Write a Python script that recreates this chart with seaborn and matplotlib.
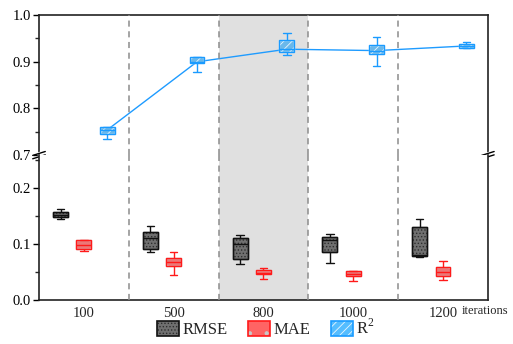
import numpy as np
import pandas as pd
import matplotlib
matplotlib.use("Agg")
import matplotlib.pyplot as plt
import seaborn as sns
from matplotlib.patches import Patch, PathPatch
from matplotlib.ticker import MultipleLocator, FormatStrFormatter

sns.set_theme(style="ticks")
plt.rcParams['font.family'] = ['Liberation Serif', 'DejaVu Serif']
plt.rcParams['mathtext.fontset'] = 'custom'
plt.rcParams['mathtext.rm'] = 'Liberation Serif'
plt.rcParams['hatch.linewidth'] = 0.6

# categories
iterations = ['100', '500', '800', '1000', '1200']
metrics = ['RMSE', 'MAE', 'R2']

# box statistics: whisker low, q1, median, q3, whisker high
rmse_min = [0.145, 0.085, 0.064, 0.066, 0.077]
rmse_q1 = [0.148, 0.092, 0.074, 0.086, 0.079]
rmse_med = [0.152, 0.110, 0.100, 0.108, 0.081]
rmse_q3 = [0.158, 0.121, 0.111, 0.113, 0.131]
rmse_max = [0.162, 0.132, 0.116, 0.118, 0.145]

mae_min = [0.0875, 0.0446, 0.0375, 0.0345, 0.0357]
mae_q1 = [0.0905, 0.0607, 0.0458, 0.0429, 0.0429]
mae_med = [0.098, 0.068, 0.049, 0.047, 0.050]
mae_q3 = [0.107, 0.0744, 0.0536, 0.0518, 0.0583]
mae_max = [0.108, 0.0863, 0.0577, 0.0520, 0.0696]

r2_min = [0.734, 0.878, 0.914, 0.892, 0.929]
r2_q1 = [0.745, 0.897, 0.921, 0.916, 0.930]
r2_med = [0.754, 0.900, 0.927, 0.924, 0.934]
r2_q3 = [0.760, 0.910, 0.946, 0.935, 0.939]
r2_max = [0.760, 0.911, 0.962, 0.953, 0.943]

# colours: fill, hatch, outline
styles = {
    'RMSE': dict(face='#707070', hatch_col='#2e2e2e', hatch='.....', edge='#111111'),
    'MAE': dict(face='#ff6464', hatch_col='#c8c8c8', hatch='.', edge='#ff1a1a'),
    'R2': dict(face='#55bdff', hatch_col='#e8f6ff', hatch='////', edge='#1a9bff'),
}


def long_frame(name, lo, q1, med, q3, hi):
    # 5 points per box -> quartiles fall exactly on q1/q3 with whis=(0, 100)
    rows = []
    for i, it in enumerate(iterations):
        for v in (lo[i], q1[i], med[i], q3[i], hi[i]):
            rows.append({'iteration': it, 'value': v, 'metric': name})
    return pd.DataFrame(rows)


frames = {
    'RMSE': long_frame('RMSE', rmse_min, rmse_q1, rmse_med, rmse_q3, rmse_max),
    'MAE': long_frame('MAE', mae_min, mae_q1, mae_med, mae_q3, mae_max),
    'R2': long_frame('R2', r2_min, r2_q1, r2_med, r2_q3, r2_max),
}

fig = plt.figure(figsize=(5.13, 3.44), dpi=100)
ax_top = fig.add_axes([0.076, 0.549, 0.875, 0.407])
ax_bot = fig.add_axes([0.076, 0.128, 0.875, 0.421])

box_width = 0.78
palette = {m: styles[m]['face'] for m in metrics}

for ax in (ax_bot, ax_top):
    ax.axvspan(1.5, 2.5, color='#e0e0e0', zorder=0, lw=0)
    for xv in (0.5, 1.5, 2.5, 3.5):
        ax.axvline(xv, color='#8c8c8c', ls=(0, (4, 3)), lw=1.1, zorder=0.5)


def draw_boxes(ax, name):
    st = styles[name]
    n_before = len(ax.patches)
    sns.boxplot(data=frames[name], x='iteration', y='value', hue='metric',
                order=iterations, hue_order=metrics, palette=palette, dodge=True,
                whis=(0, 100), width=box_width, gap=0.36, linewidth=1.0,
                linecolor=st['edge'], fliersize=0, legend=False, ax=ax)
    new_boxes = ax.patches[n_before:]
    for p in new_boxes:
        p.set_hatch(st['hatch'])
        p.set_edgecolor(st['hatch_col'])
        p.set_zorder(3)
        outline = PathPatch(p.get_path(), transform=p.get_transform(),
                            facecolor='none', edgecolor=st['edge'], lw=1.0, zorder=3.1)
        ax.add_patch(outline)
    for ln in ax.lines:
        ln.set_zorder(3.2)


draw_boxes(ax_bot, 'RMSE')
draw_boxes(ax_bot, 'MAE')
draw_boxes(ax_top, 'R2')

# R2 medians joined by a line
r2_offset = box_width / 3
sns.lineplot(x=np.arange(len(iterations)) + r2_offset, y=r2_med, ax=ax_top,
             color='#1e9bff', lw=1.0, zorder=2.5)

ax_top.set_ylim(0.7, 1.0)
ax_bot.set_ylim(0.0, 0.259)
for ax in (ax_top, ax_bot):
    ax.set_xlim(-0.5, 4.5)
    ax.set_xlabel('')
    ax.set_ylabel('')
    ax.yaxis.set_major_locator(MultipleLocator(0.1))
    ax.yaxis.set_minor_locator(MultipleLocator(0.05))
    ax.yaxis.set_major_formatter(FormatStrFormatter('%.1f'))
    ax.tick_params(axis='y', which='major', direction='out', length=4, width=1,
                   labelsize=10.5, pad=2, colors='black')
    ax.tick_params(axis='y', which='minor', direction='out', length=3, width=1)
    ax.tick_params(axis='x', length=0, labelsize=10.5, pad=5)
    for s in ax.spines.values():
        s.set_linewidth(1.2)
        s.set_color('#222222')

ax_top.spines['bottom'].set_visible(False)
ax_bot.spines['top'].set_visible(False)
ax_top.set_xticks(range(len(iterations)))
ax_top.tick_params(axis='x', labelbottom=False)
ax_top.set_yticks([0.7, 0.8, 0.9, 1.0])
ax_bot.set_yticks([0.0, 0.1, 0.2])
ax_bot.set_xticks(range(len(iterations)))
ax_bot.set_xticklabels(iterations)

# axis break marks
for xb in (0.0, 1.0):
    ax_top.plot([xb, xb], [-0.012, 0.012], transform=ax_top.transAxes,
                color='white', lw=2.5, clip_on=False, zorder=10)
    for dy in (-0.012, 0.012):
        ax_top.plot([xb - 0.014, xb + 0.014], [dy - 0.014, dy + 0.014],
                    transform=ax_top.transAxes, color='black', lw=1.0,
                    clip_on=False, zorder=11)

fig.text(0.9, 0.095, 'iterations', fontsize=9, ha='left', va='center')

# legend
handles = []
for m in metrics:
    st = styles[m]
    handles.append((Patch(facecolor=st['face'], edgecolor=st['hatch_col'], hatch=st['hatch'], lw=0),
                    Patch(facecolor='none', edgecolor=st['edge'], lw=1.2)))
labels = ['RMSE', 'MAE', r'R$^{\mathrm{2}}$']
fig.legend(handles, labels, loc='center', bbox_to_anchor=(0.518, 0.045), ncol=3,
           frameon=False, fontsize=12, handlelength=1.32, handleheight=1.05,
           handletextpad=0.2, columnspacing=1.25, borderpad=0.1)

fig.savefig('out.png', dpi=100)
